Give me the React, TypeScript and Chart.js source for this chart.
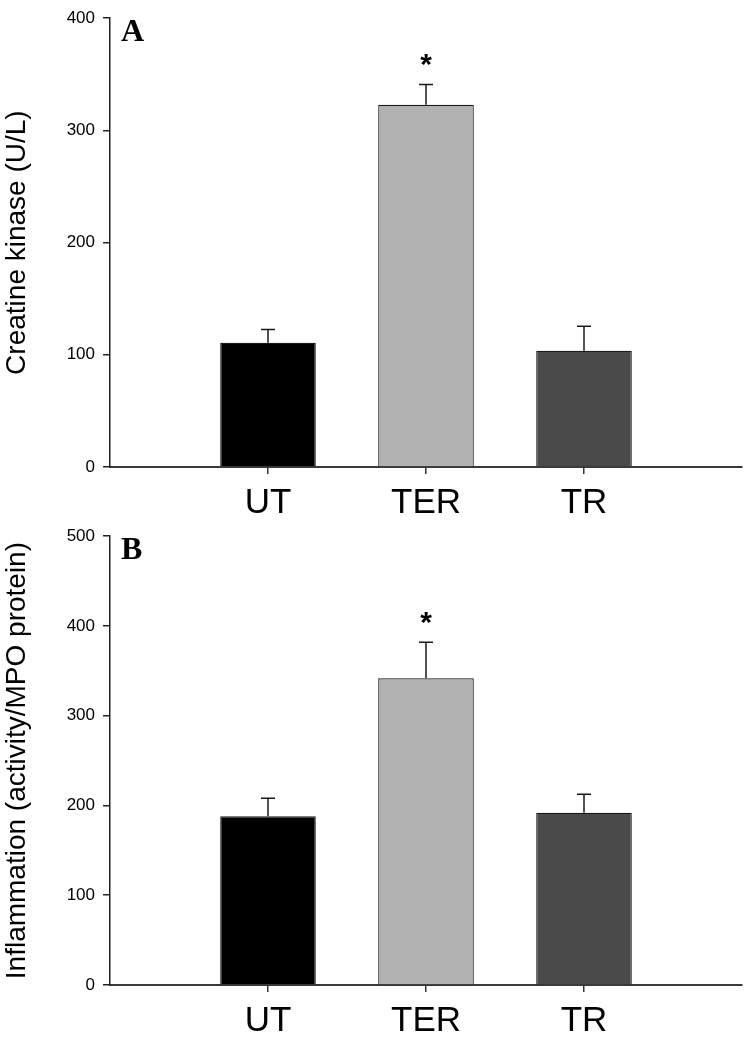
import React, { useEffect, useRef } from "react";
import { Chart, registerables } from "chart.js";

Chart.register(...registerables);

// ---- data ----
const categories = ["", "UT", "TER", "TR", ""];
const barColors = ["#000000", "#000000", "#b1b1b1", "#4a4a4a", "#000000"];

const ckValues = [null, 110.8, 322.8, 103.5, null];
const ckErrors = [null, 11.7, 18.2, 22.0, null];
const ckStars = ["", "", "*", "", ""];
const ckTicks = [0, 100, 200, 300, 400];
const ckTitle = "Creatine kinase (U/L)";
const ckPanel = "A";

const inflValues = [null, 188, 341.8, 191.8, null];
const inflErrors = [null, 20, 40, 20.7, null];
const inflStars = ["", "", "*", "", ""];
const inflTicks = [0, 100, 200, 300, 400, 500];
const inflTitle = "Inflammation (activity/MPO protein)";
const inflPanel = "B";

const SANS = "'Liberation Sans', Arial, sans-serif";

const extrasPlugin = {
  id: "extras",
  afterDatasetsDraw(chart: any, _args: any, opts: any) {
    const ctx = chart.ctx;
    const xs = chart.scales.x;
    const ys = chart.scales.y;
    const errs: (number | null)[] = opts.errors;
    const vals: (number | null)[] = chart.data.datasets[0].data;
    const stars: string[] = opts.stars;
    ctx.save();
    vals.forEach((v, i) => {
      const e = errs[i];
      if (v == null || e == null) return;
      const x = xs.getPixelForValue(i);
      const y0 = ys.getPixelForValue(v);
      const y1 = ys.getPixelForValue(v + e);
      ctx.strokeStyle = "#1a1a1a";
      ctx.lineWidth = 1.5;
      ctx.beginPath();
      ctx.moveTo(x, y0);
      ctx.lineTo(x, y1);
      ctx.moveTo(x - 7, y1);
      ctx.lineTo(x + 7, y1);
      ctx.stroke();
      if (stars[i]) {
        ctx.fillStyle = "#000";
        ctx.font = `bold 30px ${SANS}`;
        ctx.textAlign = "center";
        ctx.textBaseline = "alphabetic";
        ctx.fillText(stars[i], x, y1 - 10);
      }
    });
    const ca = chart.chartArea;
    ctx.fillStyle = "#000";
    ctx.font = "bold 32px 'Liberation Serif', 'Times New Roman', serif";
    ctx.textAlign = "left";
    ctx.textBaseline = "alphabetic";
    ctx.fillText(opts.panel, ca.left + 11, ca.top + 23);
    ctx.restore();
  },
};

function makeConfig(values: any[], errors: any[], stars: string[], ticks: number[], title: string, panel: string, xHeight: number) {
  return {
    type: "bar" as const,
    data: {
      labels: categories,
      datasets: [
        {
          data: values,
          backgroundColor: barColors,
          borderColor: "#1a1a1a",
          borderWidth: 1.2,
          categoryPercentage: 1,
          barPercentage: 0.605,
        },
      ],
    },
    plugins: [extrasPlugin],
    options: {
      animation: false,
      responsive: false,
      maintainAspectRatio: false,
      layout: { padding: { top: 12, right: 6, left: 0, bottom: 0 } },
      plugins: {
        legend: { display: false },
        tooltip: { enabled: false },
        extras: { errors, stars, panel },
      },
      scales: {
        x: {
          type: "category",
          offset: false,
          grid: {
            offset: false,
            drawOnChartArea: false,
            drawTicks: true,
            tickLength: 7,
            tickColor: (c: any) => (c.index === 0 || c.index === categories.length - 1 ? "rgba(0,0,0,0)" : "#333"),
            lineWidth: 1.5,
          },
          border: { display: true, color: "#3a3a3a", width: 2 },
          ticks: {
            color: "#000",
            font: { family: SANS, size: 35 },
            padding: 8,
            maxRotation: 0,
            autoSkip: false,
          },
          afterFit: (s: any) => {
            s.height = xHeight;
          },
        },
        y: {
          min: ticks[0],
          max: ticks[ticks.length - 1],
          afterBuildTicks: (s: any) => {
            s.ticks = ticks.map((v) => ({ value: v }));
          },
          grid: { drawOnChartArea: false, drawTicks: true, tickLength: 7, tickColor: "#222", lineWidth: 1.5 },
          border: { display: true, color: "#222", width: 1.5 },
          ticks: { color: "#000", font: { family: SANS, size: 17 }, padding: 8 },
          title: {
            display: true,
            text: title,
            color: "#000",
            font: { family: SANS, size: 28 },
            padding: { top: 0, bottom: 0 },
          },
          afterFit: (s: any) => {
            s.width = 110;
          },
        },
      },
    },
  };
}

function Panel(props: { top: number; height: number; xHeight: number; values: any[]; errors: any[]; stars: string[]; ticks: number[]; title: string; panel: string }) {
  const ref = useRef<HTMLCanvasElement>(null);
  useEffect(() => {
    if (!ref.current) return;
    const chart = new Chart(ref.current, makeConfig(props.values, props.errors, props.stars, props.ticks, props.title, props.panel, props.xHeight) as any);
    return () => chart.destroy();
  }, []);
  return (
    <canvas
      ref={ref}
      width={750}
      height={props.height}
      style={{ position: "absolute", left: 0, top: props.top, width: 750, height: props.height }}
    />
  );
}

export default function App() {
  return (
    <div style={{ position: "absolute", left: 0, top: 0, width: 750, height: 1037, background: "#fff" }}>
      <Panel top={0} height={518} xHeight={51} values={ckValues} errors={ckErrors} stars={ckStars} ticks={ckTicks} title={ckTitle} panel={ckPanel} />
      <Panel top={518} height={519} xHeight={52} values={inflValues} errors={inflErrors} stars={inflStars} ticks={inflTicks} title={inflTitle} panel={inflPanel} />
    </div>
  );
}
